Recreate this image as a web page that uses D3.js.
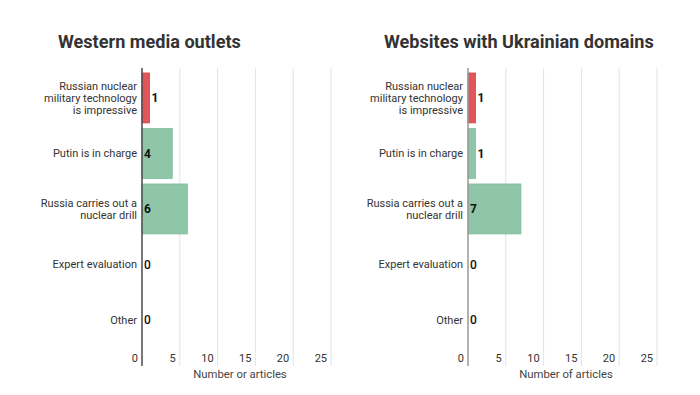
<!DOCTYPE html>
<html>
<head>
<meta charset="utf-8">
<script src="https://cdn.jsdelivr.net/npm/d3@7"></script>
<style>
  body { margin: 0; background: #fff; }
  svg { font-family: Roboto, sans-serif; }
</style>
</head>
<body>
<svg id="chart" width="700" height="395"></svg>
<script>
const categories = [
  "Russian nuclear\nmilitary technology\nis impressive",
  "Putin is in charge",
  "Russia carries out a\nnuclear drill",
  "Expert evaluation",
  "Other"
];
const westernValues = [1, 4, 6, 0, 0];
const ukrainianValues = [1, 1, 7, 0, 0];
const highlighted = [true, false, false, false, false];
const tickValues = [0, 5, 10, 15, 20, 25];

const panels = [
  { title: "Western media outlets", titleX: 58, values: westernValues, x0: 142, axisTitle: "Number or articles", zeroColor: "#4a4a4a" },
  { title: "Websites with Ukrainian domains", titleX: 384, values: ukrainianValues, x0: 468, axisTitle: "Number of articles", zeroColor: "#999" }
];

const svg = d3.select("#chart");

const y = d3.scaleBand()
  .domain(categories)
  .range([70.2, 347.7])
  .paddingInner(0.1)
  .paddingOuter(0.05);

panels.forEach(function(p) {
  const x = d3.scaleLinear().domain([0, 25]).range([p.x0, p.x0 + 189]);
  const g = svg.append("g");

  g.append("text")
    .attr("x", p.titleX)
    .attr("y", 48)
    .attr("font-size", 18.1)
    .attr("font-weight", "bold")
    .attr("fill", "#333")
    .text(p.title);

  // gridlines
  g.selectAll(".grid")
    .data(tickValues.slice(1))
    .enter().append("line")
    .attr("x1", d => x(d)).attr("x2", d => x(d))
    .attr("y1", 68).attr("y2", 366)
    .attr("stroke", "#e3e3e3")
    .attr("stroke-width", 1);

  // tick labels
  g.selectAll(".tick")
    .data(tickValues)
    .enter().append("text")
    .attr("x", d => x(d) - 4)
    .attr("y", 362)
    .attr("text-anchor", "end")
    .attr("font-size", 11)
    .attr("fill", "#333")
    .text(d => d);

  // bars
  g.selectAll(".bar")
    .data(p.values)
    .enter().append("rect")
    .attr("x", x(0))
    .attr("y", (d, i) => y(categories[i]))
    .attr("width", d => x(d) - x(0))
    .attr("height", y.bandwidth())
    .attr("fill", (d, i) => highlighted[i] ? "#e05659" : "#8fc6a8")
    .attr("stroke", (d, i) => highlighted[i] ? "#d04a4d" : "#80bb9a")
    .attr("stroke-width", 0.8);

  // zero line
  g.append("line")
    .attr("x1", x(0)).attr("x2", x(0))
    .attr("y1", 68).attr("y2", 366)
    .attr("stroke", p.zeroColor)
    .attr("stroke-width", 1.5);

  // value labels
  g.selectAll(".val")
    .data(p.values)
    .enter().append("text")
    .attr("x", d => (x(d) - x(0) < 12 && d > 0) ? x(d) + 2 : x(0) + 2)
    .attr("y", (d, i) => y(categories[i]) + y.bandwidth() / 2)
    .attr("dy", "0.35em")
    .attr("font-size", 12)
    .attr("font-weight", (d, i) => d > 0 ? "bold" : "500")
    .attr("fill", "#111")
    .text(d => d);

  // category labels
  categories.forEach(function(c, i) {
    const lines = c.split("\n");
    const cy = y(c) + y.bandwidth() / 2;
    const t = g.append("text")
      .attr("text-anchor", "end")
      .attr("font-size", 11)
      .attr("fill", "#333");
    lines.forEach(function(l, j) {
      t.append("tspan")
        .attr("x", x(0) - 5)
        .attr("y", cy + (j - (lines.length - 1) / 2) * 12.3)
        .attr("dy", "0.35em")
        .text(l);
    });
  });

  g.append("text")
    .attr("x", (x(0) + x(25)) / 2 + 3.5)
    .attr("y", 378)
    .attr("text-anchor", "middle")
    .attr("font-size", 11.3)
    .attr("fill", "#444")
    .text(p.axisTitle);
});
</script>
</body>
</html>
